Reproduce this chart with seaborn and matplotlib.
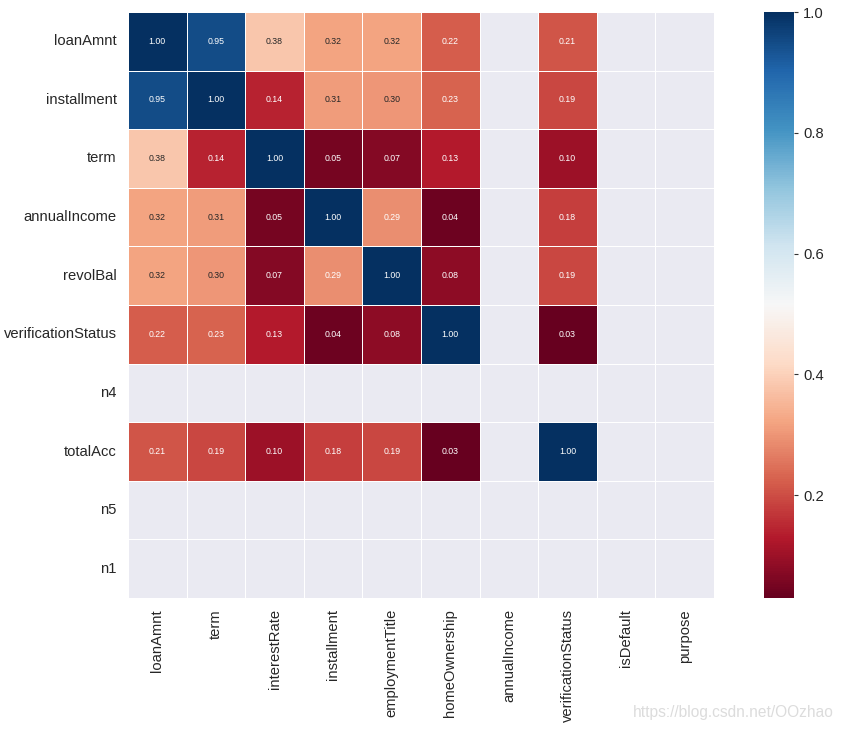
import numpy as np
import pandas as pd
import matplotlib
matplotlib.use("Agg")
import matplotlib.pyplot as plt
import seaborn as sns

row_labels = ["loanAmnt", "installment", "term", "annualIncome", "revolBal",
              "verificationStatus", "n4", "totalAcc", "n5", "n1"]
col_labels = ["loanAmnt", "term", "interestRate", "installment", "employmentTitle",
              "homeOwnership", "annualIncome", "verificationStatus", "isDefault", "purpose"]
nan = np.nan
r_loanAmnt = [1.00, 0.95, 0.38, 0.32, 0.32, 0.22, nan, 0.21, nan, nan]
r_installment = [0.95, 1.00, 0.14, 0.31, 0.30, 0.23, nan, 0.19, nan, nan]
r_term = [0.38, 0.14, 1.00, 0.05, 0.07, 0.13, nan, 0.10, nan, nan]
r_annualIncome = [0.32, 0.31, 0.05, 1.00, 0.29, 0.04, nan, 0.18, nan, nan]
r_revolBal = [0.32, 0.30, 0.07, 0.29, 1.00, 0.08, nan, 0.19, nan, nan]
r_verificationStatus = [0.22, 0.23, 0.13, 0.04, 0.08, 1.00, nan, 0.03, nan, nan]
r_n4 = [nan] * 10
r_totalAcc = [0.21, 0.19, 0.10, 0.18, 0.19, 0.03, nan, 1.00, nan, nan]
r_n5 = [nan] * 10
r_n1 = [nan] * 10

data = pd.DataFrame([r_loanAmnt, r_installment, r_term, r_annualIncome, r_revolBal,
                     r_verificationStatus, r_n4, r_totalAcc, r_n5, r_n1],
                    index=row_labels, columns=col_labels)

sns.set_theme(style="darkgrid")
plt.rcParams['font.family'] = ['Liberation Sans', 'DejaVu Sans']

fig = plt.figure(figsize=(8.44, 7.31), dpi=100)
W, H = 844, 731
ax = fig.add_axes([128 / W, 1 - 598 / H, 586 / W, 586 / H])
cax = fig.add_axes([764 / W, 1 - 598 / H, 30 / W, 586 / H])

sns.heatmap(data, ax=ax, cbar_ax=cax, cmap="RdBu", annot=True, fmt=".2f",
            annot_kws={"size": 6.3}, linewidths=0.5, linecolor="white", square=False)
ax.grid(False)
ax.tick_params(axis='both', length=0, labelsize=10.6, pad=8, labelcolor="#262626")
ax.set_xticklabels(col_labels, rotation=90)
ax.set_yticklabels(row_labels, rotation=0)
ax.set_xlabel("")
ax.set_ylabel("")
cax.tick_params(labelsize=10.6, length=3, width=0.8, color="#333333", labelcolor="#262626")
cax.set_yticks([0.2, 0.4, 0.6, 0.8, 1.0])

fig.text(834 / W, 1 - 713 / H, "https://blog.csdn.net/OOzhao", ha="right", va="center",
         fontsize=11.2, color="#dcdcdc")

fig.savefig("out.png", dpi=100)
